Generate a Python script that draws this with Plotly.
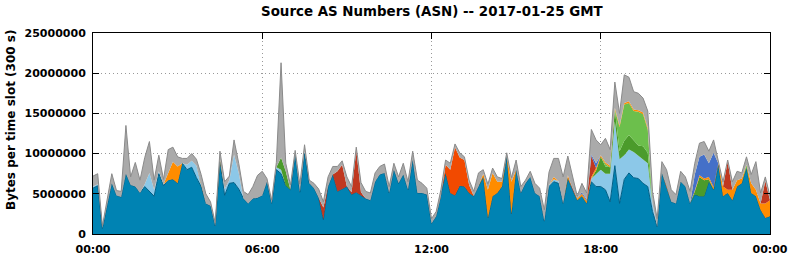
import pandas as pd
import plotly.graph_objects as go

# 10-minute samples, values in millions of bytes per 300 s slot
times = pd.date_range("2017-01-25 00:00", "2017-01-26 00:00", freq="10min")

blue = [5.7, 6.0, 0.7, 3.6, 6.3, 4.8,
        4.6, 7.5, 6.1, 5.9, 5.1, 5.9,
        5.3, 4.7, 7.5, 6.0, 6.7, 6.8,
        6.3, 8.8, 8.0, 8.3, 7.0, 5.9,
        3.8, 3.5, 1.0, 9.0, 4.8, 6.3,
        6.4, 5.6, 4.4, 3.8, 4.4, 4.5,
        4.8, 6.5, 3.8, 8.0, 7.5, 6.0,
        5.5, 9.8, 5.2, 10.0, 6.3, 5.7,
        4.5, 1.8, 5.9, 7.4, 5.3, 5.6,
        5.9, 4.9, 5.2, 4.8, 4.4, 4.2,
        6.5, 7.4, 7.6, 5.1, 8.0, 6.3,
        7.4, 5.5, 9.2, 5.1, 5.1, 4.9,
        1.3, 2.2, 4.7, 7.6, 5.1, 4.8,
        6.0, 5.9, 5.1, 4.7, 5.9, 7.1,
        2.0, 4.7, 5.1, 5.9, 9.6, 2.5,
        8.0, 5.1, 6.3, 7.1, 5.1, 4.7,
        1.6, 5.9, 6.5, 6.3, 3.8, 6.9,
        5.5, 4.2, 4.7, 3.8, 6.5, 5.9,
        5.9, 5.5, 4.0, 8.5, 3.8, 6.8,
        7.6, 7.0, 6.9, 6.3, 5.9, 2.8,
        0.9, 7.6, 5.9, 4.0, 3.8, 6.5,
        5.9, 3.8, 4.9, 4.7, 4.7, 6.5,
        5.5, 8.6, 4.7, 5.1, 4.2, 5.9,
        6.3, 8.2, 5.1, 4.7, 3.0, 2.0,
        2.2]

light_blue = [0.2, 0.2, 0, 0, 0, 0,
              0, 0, 0, 0, 0, 0.3,
              2.3, 0.8, 0.3, 0.2, 0, 0,
              0, 0, 0.6, 0.8, 1.5, 0.4,
              0, 0, 0, 0, 0.8, 0.4,
              3.5, 2.0, 0, 0, 0, 0,
              0, 0, 0, 0.3, 0.5, 0,
              0, 0, 0, 0.3, 0, 0,
              0, 0, 0, 0, 0, 0,
              0, 0, 0, 0, 0, 0,
              0, 0, 0, 0, 0, 0,
              0, 0, 0, 0, 0, 0,
              0, 0, 0, 0, 0, 0,
              0, 0, 0, 0, 0, 0,
              0, 0, 0, 0, 0, 0,
              0, 0, 0, 0, 0, 0,
              0, 0.2, 0.3, 0.3, 0, 0,
              0, 0, 0, 0, 0.4, 1.6,
              2.1, 2.0, 3.5, 5.5, 5.5, 3.0,
              2.9, 3.2, 2.8, 3.0, 2.9, 1.0,
              0, 0, 0, 0, 0, 0,
              0, 0, 0, 0, 0, 0,
              0, 0, 0, 0, 0, 0,
              0, 0, 0, 0, 0, 0,
              0]

dark_green = [0] * 36 + [0, 0, 0, 0, 1.5, 1.8] + [0] * 60 + \
             [0, 0, 0, 0, 0, 0.4,
              1.6, 0.9, 0.8, 1.5, 1.0, 1.8,
              1.8, 1.5, 1.3, 1.6, 1.3, 0,
              0, 0, 0, 0, 0, 0,
              0, 0, 0.4, 2.4, 2.0, 0.3,
              0, 0, 0, 0, 0, 0,
              0, 0, 0, 0, 0, 0,
              0]

light_green = [0] * 108 + \
              [0, 0.3, 0, 0, 3.0, 4.5,
               4.0, 3.6, 4.2, 4.0, 2.9, 0,
               0, 0, 0, 0, 0, 0,
               0, 0, 0, 0, 0, 0,
               0, 0, 0, 0, 0, 0,
               0, 0.4, 0, 0, 0, 0,
               0]

orange = [0, 0, 0, 0, 0, 0,
          0, 0, 0, 0, 0, 0,
          0, 0, 0, 0, 0.9, 2.2,
          2.1, 0, 0, 0, 0, 0,
          0, 0, 0, 0.3, 0, 0] + [0] * 48 + \
         [0, 0, 0, 0, 0, 0.4,
          3.5, 2.9, 1.4, 0.6, 0, 4.0,
          0, 0, 0, 0, 0, 0,
          0, 0, 0.3, 0, 0, 0.4,
          0, 0.2, 0.3, 0.3, 0.2, 0.3,
          0.2, 0.2, 0.2, 0.2, 0.2, 0.2,
          0.2, 0.2, 0.2, 0.2, 0.2, 0,
          0, 0, 0, 0, 0, 0,
          0, 0, 0.1, 0.2, 0.2, 0.3,
          0.3, 0.2, 1.2, 0.4, 1.3, 0.8,
          0.6, 0, 1.2, 0.8, 0.8, 1.8,
          2.0]

orange_red = [0] * 72 + [0, 0, 0, 1.0, 2.9, 6.0,
                         3.5, 3.3, 1.0, 0, 0, 0] + [0] * 61

dark_red = [0] * 48 + [0, 1.5, 0, 0, 2.5, 3.0,
                       0, 0.3, 5.2, 0.4, 0, 0] + [0] * 42 + \
           [0.2, 0, 0, 0, 2.6, 0] + [0] * 24 + \
           [0, 0, 0, 3.5, 0, 0,
            0, 0, 0, 0, 0, 2.8,
            0]

royal_blue = [0] * 102 + [0, 0, 0.2, 0.2, 0.2, 0.6] + [0] * 18 + \
             [0, 0, 2.0, 2.3, 3.0, 1.7,
              4.3, 0, 0, 0, 0, 0,
              0, 0, 0, 0, 0, 0,
              0]

other = [1.3, 1.3, 0.3, 0.6, 1.2, 0.6,
         0.7, 6.0, 1.0, 3.0, 1.6, 3.3,
         3.9, 1.2, 2.0, 0.6, 2.9, 1.8,
         1.2, 0.6, 0.8, 0.9, 0.8, 1.1,
         1.2, 0.5, 0.4, 1.0, 0.9, 0.5,
         1.8, 1.2, 0.9, 1.1, 1.5, 2.8,
         3.0, 0.4, 0.4, 0.6, 11.8, 1.0,
         0.6, 0.6, 1.0, 0.8, 0.4, 0.6,
         1.1, 0.7, 1.2, 1.0, 0.6, 0.5,
         1.2, 0.7, 0.4, 1.2, 0.9, 0.9,
         1.1, 1.0, 1.1, 0.8, 0.8, 0.8,
         1.4, 1.0, 1.1, 1.6, 1.2, 0.8,
         0.6, 0.6, 0.8, 0.6, 0.8, 0.4,
         0.6, 0.4, 0.6, 0.6, 1.7, 0.5,
         0.7, 0.6, 0.6, 0.4, 0.5, 0.5,
         1.2, 0.8, 0.4, 0.7, 1.2, 1.0,
         1.4, 1.6, 2.3, 2.8, 3.3, 2.4,
         1.4, 0.3, 1.1, 0.8, 3.1, 2.9,
         1.3, 3.0, 2.0, 3.2, 1.5, 3.5,
         3.0, 2.2, 2.1, 1.8, 2.1, 1.5,
         1.0, 1.4, 2.1, 1.5, 1.1, 1.3,
         1.2, 1.5, 1.4, 1.7, 1.6, 1.5,
         1.6, 0.4, 0.6, 0.2, 1.0, 1.1,
         0.7, 1.0, 1.1, 3.5, 1.3, 0.5,
         0.5]

tick_times = ["2017-01-25 00:00", "2017-01-25 06:00", "2017-01-25 12:00",
              "2017-01-25 18:00", "2017-01-26 00:00"]
tick_labels = ["00:00", "06:00", "12:00", "18:00", "00:00"]
y_ticks = [0, 5e6, 10e6, 15e6, 20e6, 25e6]
y_labels = ["0", "5000000", "10000000", "15000000", "20000000", "25000000"]

series = [
    ("AS 1", blue, "#0083b3", "#005f86", 1),
    ("AS 2", light_blue, "#8cc8e8", "#8cc8e8", 0),
    ("AS 3", dark_green, "#4b9b2b", "#4b9b2b", 0),
    ("AS 4", light_green, "#6cbf4c", "#6cbf4c", 0),
    ("AS 5", orange, "#ff8c00", "#ff8c00", 0),
    ("AS 6", orange_red, "#f24a00", "#f24a00", 0),
    ("AS 7", dark_red, "#c0381f", "#c0381f", 0),
    ("AS 8", royal_blue, "#4470c8", "#4470c8", 0),
    ("Other", other, "#aaaaaa", "#8a8a8a", 1),
]

FONT = "DejaVu Sans"
fig = go.Figure()
for name, vals, fill, line, lw in series:
    fig.add_trace(go.Scatter(
        x=times, y=[v * 1e6 for v in vals], name=name, mode="lines",
        stackgroup="one", fillcolor=fill,
        line=dict(color=line, width=lw if lw else 0),
    ))

fig.update_layout(
    width=792, height=259,
    margin=dict(l=93, r=22, t=33, b=25, autoexpand=False),
    paper_bgcolor="white", plot_bgcolor="white",
    showlegend=False,
    font=dict(family=FONT, size=11, color="black"),
    annotations=[
        dict(text="<b>Source AS Numbers (ASN) -- 2017-01-25 GMT</b>",
             xref="paper", yref="paper", x=0.5, y=(234 - 12) / 201,
             xanchor="center", yanchor="middle", showarrow=False,
             font=dict(family=FONT, size=13.4, color="black")),
        dict(text="<b>Bytes per time slot (300 s)</b>",
             xref="paper", yref="paper", x=(11 - 93) / 677, y=(234 - 120) / 201,
             xanchor="center", yanchor="middle", showarrow=False, textangle=-90,
             font=dict(family=FONT, size=12, color="black")),
    ],
    xaxis2=dict(
        type="date", overlaying="x", side="top", anchor="y",
        range=["2017-01-25 00:00", "2017-01-26 00:00"],
        tickvals=tick_times, showticklabels=False,
        ticks="inside", ticklen=6, tickcolor="black",
        showgrid=False, showline=False, zeroline=False, automargin=False,
    ),
)
fig.update_xaxes(
    selector=dict(overlaying=None),
)
fig.layout.xaxis.update(
    type="date", range=["2017-01-25 00:00", "2017-01-26 00:00"],
    tickvals=tick_times, ticktext=tick_labels,
    showgrid=True, gridcolor="#999999", griddash="1px,3px", gridwidth=1,
    showline=True, linecolor="black", linewidth=1, mirror=True,
    ticks="", ticklabelstandoff=5, automargin=False,
    tickfont=dict(family=FONT, size=11, color="black", weight="bold"),
    zeroline=False,
)
fig.update_yaxes(
    range=[0, 25e6], tickvals=y_ticks, ticktext=y_labels,
    showgrid=True, gridcolor="#999999", griddash="1px,3px", gridwidth=1,
    showline=True, linecolor="black", linewidth=1, mirror="ticks",
    ticks="inside", ticklen=6, tickcolor="black", ticklabelstandoff=4,
    automargin=False,
    tickfont=dict(family=FONT, size=11, color="black", weight="bold"),
    zeroline=False,
)
# invisible trace so the top tick axis is drawn
fig.add_trace(go.Scatter(x=[tick_times[0]], y=[0], xaxis="x2", mode="markers",
                         marker=dict(opacity=0), hoverinfo="skip", showlegend=False))

fig.write_html("out.html")
